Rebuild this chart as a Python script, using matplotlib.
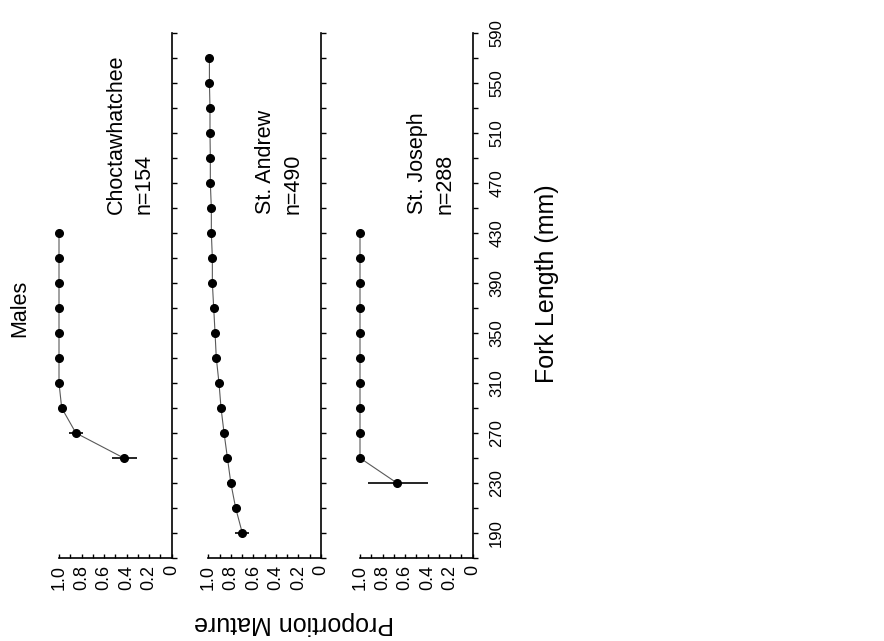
import numpy as np
import matplotlib.pyplot as plt

plt.rcParams['font.family'] = ['Liberation Sans', 'DejaVu Sans']

# fork length classes (mm) and proportion mature
fl_choc = [250, 270, 290, 310, 330, 350, 370, 390, 410, 430]
p_choc = [0.425, 0.85, 0.976, 1.0, 1.0, 1.0, 1.0, 1.0, 1.0, 1.0]
lo_choc = [0.119, 0.06, 0.01, 0, 0, 0, 0, 0, 0, 0]
hi_choc = [0.105, 0.065, 0.01, 0, 0, 0, 0, 0, 0, 0]

fl_andr = [190, 210, 230, 250, 270, 290, 310, 330, 350, 370,
           390, 410, 430, 450, 470, 490, 510, 530, 550, 570]
p_andr = [0.698, 0.757, 0.80, 0.83, 0.86, 0.887, 0.905, 0.929, 0.94, 0.952,
          0.964, 0.964, 0.973, 0.973, 0.982, 0.982, 0.985, 0.985, 0.99, 0.99]
lo_andr = [0.062, 0.035, 0.03, 0.02, 0.015, 0.012, 0.01, 0.01, 0.01, 0.01,
           0.008, 0.008, 0.006, 0.006, 0.005, 0.005, 0.004, 0.004, 0.003, 0.003]
hi_andr = lo_andr

fl_jose = [230, 250, 270, 290, 310, 330, 350, 370, 390, 410, 430]
p_jose = [0.672, 1.0, 1.0, 1.0, 1.0, 1.0, 1.0, 1.0, 1.0, 1.0, 1.0]
lo_jose = [0.278, 0, 0, 0, 0, 0, 0, 0, 0, 0, 0]
hi_jose = [0.254, 0, 0, 0, 0, 0, 0, 0, 0, 0, 0]

names = ['Choctawhatchee', 'St. Andrew', 'St. Joseph']
ns = ['n=154', 'n=490', 'n=288']

x_ticks = [0, 0.1, 0.2, 0.3, 0.4, 0.5, 0.6, 0.7, 0.8, 0.9, 1.0]
x_labels = ['0', '', '0.2', '', '0.4', '', '0.6', '', '0.8', '', '1.0']
y_ticks = list(range(170, 591, 20))
y_labels = [str(v) if (v - 190) % 40 == 0 else '' for v in y_ticks]

W, H = 884, 641
fig = plt.figure(figsize=(W / 100, H / 100), dpi=100)

lefts = [59, 208.3, 360]
series = [(fl_choc, p_choc, lo_choc, hi_choc),
          (fl_andr, p_andr, lo_andr, hi_andr),
          (fl_jose, p_jose, lo_jose, hi_jose)]

for i, (fl, p, lo, hi) in enumerate(series):
    ax = fig.add_axes([lefts[i] / W, 1 - 558 / H, 112.6 / W, 525 / H])
    ax.errorbar(p, fl, xerr=[lo, hi], fmt='none', ecolor='black',
                elinewidth=1.2, capsize=0, clip_on=False)
    ax.plot(p, fl, color='0.35', lw=0.8, clip_on=False)
    ax.plot(p, fl, 'o', color='black', ms=5.5, clip_on=False)
    ax.set_xlim(1.0, 0)
    ax.set_ylim(170, 590)

    ax.spines['top'].set_visible(False)
    ax.spines['left'].set_visible(False)
    ax.spines['right'].set_linewidth(1.2)
    ax.spines['bottom'].set_linewidth(1.2)

    ax.yaxis.tick_right()
    ax.set_yticks(y_ticks)
    if i == 2:
        ax.set_yticklabels(y_labels)
    else:
        ax.set_yticklabels([''] * len(y_ticks))
    ax.tick_params(axis='y', direction='out', length=3.3, width=1,
                   labelsize=12, labelrotation=90, pad=8.6)
    for lbl in ax.get_yticklabels():
        lbl.set_va('center')

    ax.set_xticks(x_ticks)
    ax.set_xticklabels(x_labels)
    ax.tick_params(axis='x', direction='in', length=3, width=1,
                   labelsize=13, labelrotation=90, pad=5)

    ax.text(0.49, 445, names[i], rotation=90, ha='center', va='bottom',
            fontsize=15.5)
    ax.text(0.245, 445, ns[i], rotation=90, ha='center', va='bottom',
            fontsize=15.5)

fig.text(20 / W, 1 - 308 / H, 'Males', rotation=90, ha='center',
         va='center', fontsize=15.5)
fig.text(294 / W, 1 - 623 / H, 'Proportion Mature', rotation=180,
         ha='center', va='center', fontsize=18)
fig.text(547 / W, 1 - 284 / H, 'Fork Length (mm)', rotation=90,
         ha='center', va='center', fontsize=18)

fig.savefig('out.png', dpi=100)
